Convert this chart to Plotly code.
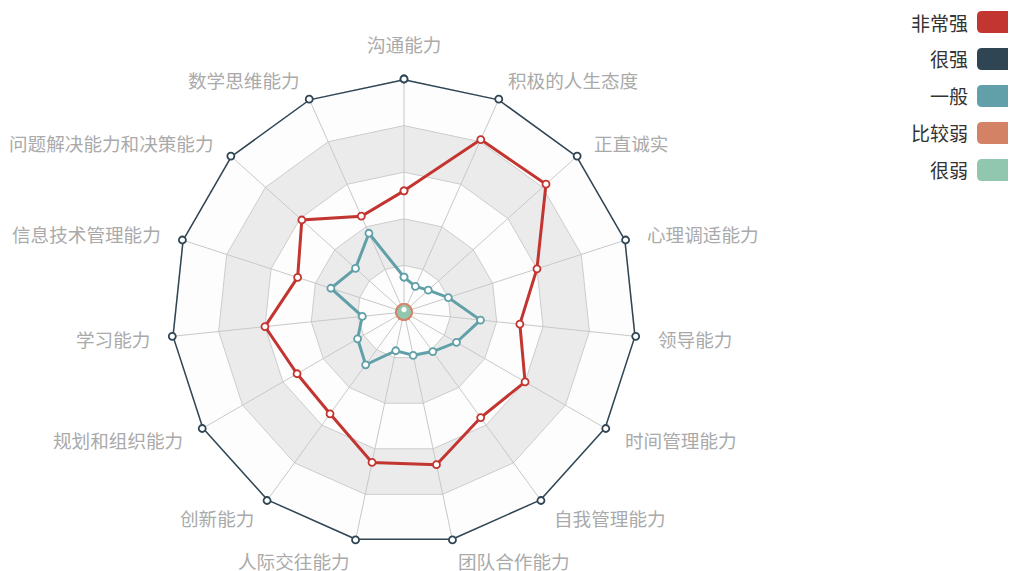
import math

import plotly.graph_objects as go

indicators = [
    "沟通能力", "积极的人生态度", "正直诚实", "心理调适能力", "领导能力",
    "时间管理能力", "自我管理能力", "团队合作能力", "人际交往能力", "创新能力",
    "规划和组织能力", "学习能力", "信息技术管理能力", "问题解决能力和决策能力", "数学思维能力",
]

series_names = ["非常强", "很强", "一般", "比较弱", "很弱"]
very_strong = [0.52, 0.81, 0.82, 0.60, 0.50, 0.60, 0.56, 0.67, 0.66, 0.54, 0.53, 0.60, 0.48, 0.59, 0.45]
strong = [1.0, 1.0, 1.0, 1.0, 1.0, 1.0, 1.0, 1.0, 1.0, 1.0, 1.0, 1.0, 1.0, 1.0, 1.0]
average = [0.15, 0.12, 0.14, 0.20, 0.33, 0.26, 0.21, 0.19, 0.17, 0.28, 0.23, 0.18, 0.33, 0.28, 0.37]
weak = [0.02, 0.02, 0.02, 0.02, 0.02, 0.02, 0.02, 0.02, 0.02, 0.02, 0.02, 0.02, 0.02, 0.02, 0.02]
very_weak = [0.01, 0.01, 0.01, 0.01, 0.01, 0.01, 0.01, 0.01, 0.01, 0.01, 0.01, 0.01, 0.01, 0.01, 0.01]

colors = ["#c23531", "#2f4554", "#61a0a8", "#d48265", "#91c7ae"]
split_levels = [1.0, 0.8, 0.6, 0.4, 0.2]
band_colors = ["#fdfdfd", "#ebebeb", "#fdfdfd", "#ebebeb", "#fdfdfd"]
FONT = "Noto Sans CJK SC, Microsoft YaHei, sans-serif"

W, H = 1016, 571
OFF = 8  # page body margin shifts the figure by 8px

closed_theta = indicators + indicators[:1]

fig = go.Figure()

# split areas + split lines (polygon rings), outermost first
for lvl, bc in zip(split_levels, band_colors):
    fig.add_trace(
        go.Scatterpolar(
            r=[lvl] * len(closed_theta),
            theta=closed_theta,
            mode="lines",
            fill="toself",
            fillcolor=bc,
            line=dict(color="#cccccc", width=1),
            hoverinfo="skip",
            showlegend=False,
        )
    )

# axis spokes
spoke_r, spoke_t = [], []
for name in indicators:
    spoke_r += [0, 1, None]
    spoke_t += [name, name, None]
fig.add_trace(
    go.Scatterpolar(
        r=spoke_r,
        theta=spoke_t,
        mode="lines",
        line=dict(color="#c8c8c8", width=1),
        connectgaps=False,
        hoverinfo="skip",
        showlegend=False,
    )
)

all_series = [very_strong, strong, average, weak, very_weak]
for name, vals, col in zip(series_names, all_series, colors):
    fig.add_trace(
        go.Scatterpolar(
            r=vals + vals[:1],
            theta=closed_theta,
            mode="lines+markers",
            name=name,
            line=dict(color=col, width=3),
            marker=dict(size=7, color="white", line=dict(color=col, width=1.8)),
            showlegend=False,
        )
    )

cx, cy, R = 404 - OFF, 312 - OFF, 233

# indicator names placed echarts-style around the outer ring
name_gap = 21
n = len(indicators)
for i, name in enumerate(indicators):
    ang = math.radians(90 - 360 * i / n)
    c, s = math.cos(ang), math.sin(ang)
    px = cx + (R + name_gap) * c
    py = cy - (R + name_gap) * s
    if abs(c) < 0.1:
        xa, ya = "center", ("bottom" if s > 0 else "top")
    else:
        xa, ya = ("left" if c > 0 else "right"), "middle"
    fig.add_annotation(
        x=px / W, y=1 - py / H, xref="paper", yref="paper",
        text=name, showarrow=False, xanchor=xa, yanchor=ya, borderpad=0,
        font=dict(size=18.6, color="#aaaaaa", family=FONT),
    )

# legend drawn echarts-style: text on the left, rounded swatch on the right
legend_y = [22, 59, 96, 133, 170]
rad = 5
for name, col, yy in zip(series_names, colors, legend_y):
    x0, x1 = 977 - OFF, 1014 - OFF
    y0, y1 = yy - 11 - OFF, yy + 11 - OFF

    def P(x, y):
        return f"{x / W:.5f},{1 - y / H:.5f}"

    path = (
        f"M{P(x0 + rad, y0)} L{P(x1 - rad, y0)} Q{P(x1, y0)} {P(x1, y0 + rad)} "
        f"L{P(x1, y1 - rad)} Q{P(x1, y1)} {P(x1 - rad, y1)} "
        f"L{P(x0 + rad, y1)} Q{P(x0, y1)} {P(x0, y1 - rad)} "
        f"L{P(x0, y0 + rad)} Q{P(x0, y0)} {P(x0 + rad, y0)} Z"
    )
    fig.add_shape(
        type="path", xref="paper", yref="paper", path=path,
        fillcolor=col, line=dict(width=0),
    )
    fig.add_annotation(
        x=(970 - OFF) / W, y=1 - (yy - OFF) / H, xref="paper", yref="paper",
        text=name, showarrow=False, xanchor="right", yanchor="middle",
        font=dict(size=19, color="#333333", family=FONT),
    )

fig.update_layout(
    width=W,
    height=H,
    margin=dict(l=0, r=0, t=0, b=0),
    paper_bgcolor="white",
    font=dict(family=FONT),
    polar=dict(
        domain=dict(
            x=[(cx - R) / W, (cx + R) / W],
            y=[1 - (cy + R) / H, 1 - (cy - R) / H],
        ),
        bgcolor="rgba(0,0,0,0)",
        gridshape="linear",
        radialaxis=dict(visible=False, range=[0, 1]),
        angularaxis=dict(
            type="category",
            categoryarray=indicators,
            direction="clockwise",
            rotation=90,
            showgrid=False,
            showline=False,
            showticklabels=False,
            ticks="",
        ),
    ),
)

fig.write_html("out.html")
